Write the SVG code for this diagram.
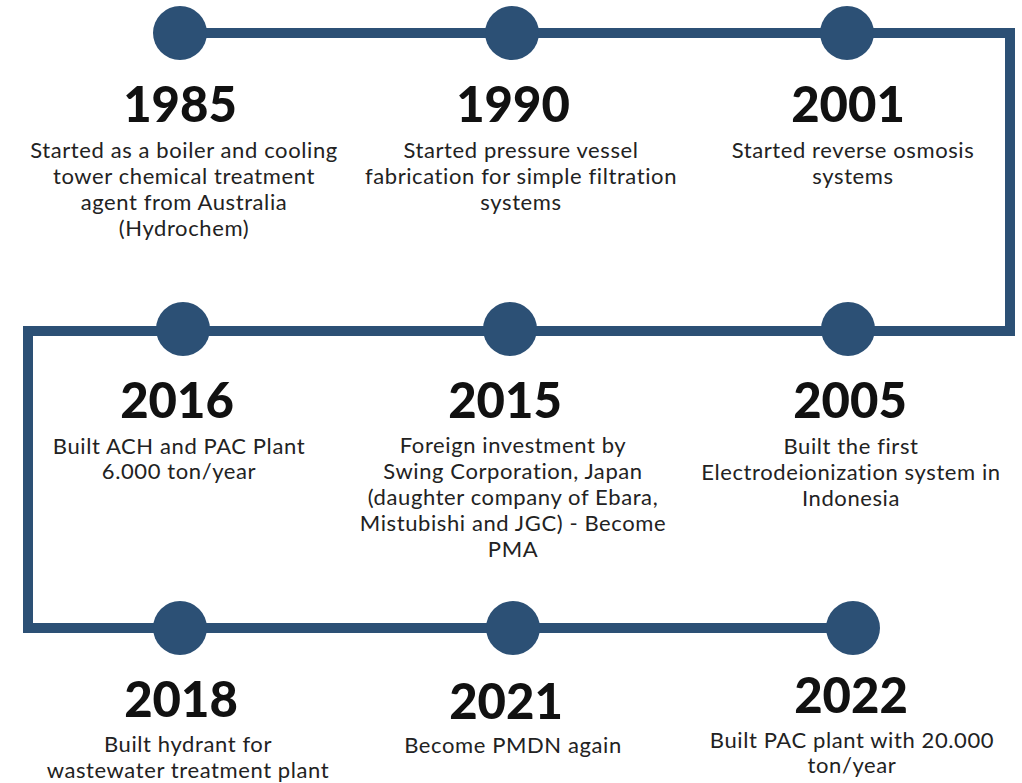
<svg xmlns="http://www.w3.org/2000/svg" width="1022" height="783" viewBox="0 0 1022 783">
<style>
.dot{fill:#2c5075}
.yr{font-family:Lato,"Liberation Sans",sans-serif;font-weight:900;font-size:49px;fill:#111;text-anchor:middle}
.tx{font-family:Lato,"Liberation Sans",sans-serif;font-size:22px;letter-spacing:0.6px;fill:#222;text-anchor:middle}
</style>
<rect width="1022" height="783" fill="#fff"/>
<g id="connectors">
<path d="M180,33 H1010 V331 H28 V628 H853" fill="none" stroke="#2c5075" stroke-width="10" stroke-linejoin="miter"/>
</g>
<g id="n1985"><circle class="dot" cx="180" cy="33" r="27"/><text class="yr" x="180" y="122">1985</text>
<text class="tx" x="184" y="158">Started as a boiler and cooling</text><text class="tx" x="184" y="184">tower chemical treatment</text><text class="tx" x="184" y="210">agent from Australia</text><text class="tx" x="184" y="236">(Hydrochem)</text></g>
<g id="n1990"><circle class="dot" cx="512" cy="33" r="27"/><text class="yr" x="513" y="122">1990</text>
<text class="tx" x="521" y="158">Started pressure vessel</text><text class="tx" x="521" y="184">fabrication for simple filtration</text><text class="tx" x="521" y="210">systems</text></g>
<g id="n2001"><circle class="dot" cx="847" cy="33" r="27"/><text class="yr" x="848" y="122">2001</text>
<text class="tx" x="853" y="158">Started reverse osmosis</text><text class="tx" x="853" y="184">systems</text></g>
<g id="n2005"><circle class="dot" cx="848" cy="329" r="27"/><text class="yr" x="850" y="418">2005</text>
<text class="tx" x="851" y="454">Built the first</text><text class="tx" x="851" y="480">Electrodeionization system in</text><text class="tx" x="851" y="506">Indonesia</text></g>
<g id="n2015"><circle class="dot" cx="510" cy="329" r="27"/><text class="yr" x="505" y="418">2015</text>
<text class="tx" x="513" y="453">Foreign investment by</text><text class="tx" x="513" y="479">Swing Corporation, Japan</text><text class="tx" x="513" y="505">(daughter company of Ebara,</text><text class="tx" x="513" y="531">Mistubishi and JGC) - Become</text><text class="tx" x="513" y="557">PMA</text></g>
<g id="n2016"><circle class="dot" cx="183" cy="329" r="27"/><text class="yr" x="177" y="418">2016</text>
<text class="tx" x="179" y="454">Built ACH and PAC Plant</text><text class="tx" x="179" y="479">6.000 ton/year</text></g>
<g id="n2018"><circle class="dot" cx="180" cy="628" r="27"/><text class="yr" x="181" y="717">2018</text>
<text class="tx" x="188" y="752">Built hydrant for</text><text class="tx" x="188" y="778">wastewater treatment plant</text></g>
<g id="n2021"><circle class="dot" cx="513" cy="628" r="27"/><text class="yr" x="506" y="719">2021</text>
<text class="tx" x="513" y="753">Become PMDN again</text></g>
<g id="n2022"><circle class="dot" cx="853" cy="628" r="27"/><text class="yr" x="851" y="713">2022</text>
<text class="tx" x="852" y="748">Built PAC plant with 20.000</text><text class="tx" x="852" y="773">ton/year</text></g>
</svg>
